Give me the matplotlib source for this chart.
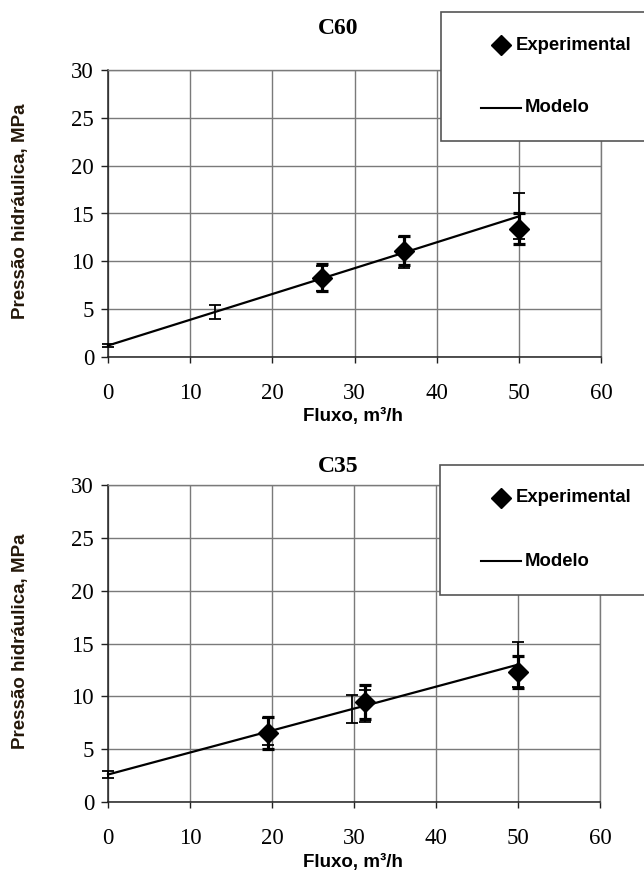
import matplotlib
matplotlib.use("Agg")
import matplotlib.pyplot as plt
from matplotlib.patches import Rectangle
from matplotlib.lines import Line2D

# ---- data ----
titles = ["C60", "C35"]
x_ticks = [0, 10, 20, 30, 40, 50, 60]
y_ticks = [0, 5, 10, 15, 20, 25, 30]

# C60
c60_model_x = [0, 13, 26, 36, 50]
c60_model_y = [1.2, 4.7, 8.2, 10.9, 14.7]
c60_model_err = [0.12, 0.75, 1.3, 1.6, 2.4]
c60_exp_x = [26, 36, 50]
c60_exp_y = [8.3, 11.1, 13.4]
c60_exp_err = [1.4, 1.5, 1.6]

# C35
c35_model_x = [0, 19.5, 29.7, 31.3, 50]
c35_model_y = [2.6, 6.66, 8.78, 9.1, 13.0]
c35_model_err = [0.32, 1.25, 1.35, 1.5, 2.1]
c35_exp_x = [19.5, 31.3, 50]
c35_exp_y = [6.5, 9.5, 12.3]
c35_exp_err = [1.5, 1.6, 1.5]

W, H = 644, 875
fig = plt.figure(figsize=(W / 100, H / 100), dpi=100)

serif = "Liberation Serif"
sans = "Liberation Sans"
ylab_color = "#24180a"


def fx(px):
    return px / W


def fy(py):
    return 1 - py / H


def make_panel(rect, title, title_y, legend_box, mx, my, merr, ex, ey, eerr, xlabel_y):
    l, t, r, b = rect
    ax = fig.add_axes([fx(l), fy(b), fx(r) - fx(l), fy(t) - fy(b)])
    ax.set_xlim(0, 60)
    ax.set_ylim(0, 30)
    ax.set_xticks(x_ticks)
    ax.set_yticks(y_ticks)
    ax.set_xticklabels([str(v) for v in x_ticks], fontfamily=serif, fontsize=16.5)
    ax.set_yticklabels([str(v) for v in y_ticks], fontfamily=serif, fontsize=16.5)
    ax.grid(True, color="#7a7a7a", lw=1.0)
    ax.set_axisbelow(True)
    for s in ["top", "right"]:
        ax.spines[s].set_color("#7a7a7a")
        ax.spines[s].set_linewidth(1.0)
    for s in ["left", "bottom"]:
        ax.spines[s].set_color("#202020")
        ax.spines[s].set_linewidth(1.1)
    ax.tick_params(axis="y", length=5, width=1, pad=5, color="#202020")
    ax.tick_params(axis="x", length=4.5, width=1, pad=14, color="#202020")

    # model line with its error bars
    ax.errorbar(mx, my, yerr=merr, color="black", lw=1.6, elinewidth=1.3,
                capsize=4, capthick=1.3, zorder=3, clip_on=False)
    # experimental points
    ax.errorbar(ex, ey, yerr=eerr, fmt="D", color="black", ms=10,
                elinewidth=2.3, capsize=4.5, capthick=2.3, zorder=4, lw=0,
                clip_on=False)

    fig.text(fx((l + r) / 2 - 16), fy(title_y), title, fontfamily=serif,
             fontweight="bold", fontsize=17, ha="center", va="center")
    fig.text(fx(353), fy(xlabel_y), "Fluxo, m³/h", fontfamily=sans,
             fontweight="bold", fontsize=13.5, ha="center", va="center")
    fig.text(fx(21), fy((t + b) / 2 - 2), "Pressão hidráulica, MPa",
             fontfamily=sans, fontweight="bold", fontsize=13.5, color=ylab_color,
             rotation=90, ha="center", va="center")

    # legend box
    bl, bt, br, bb = legend_box
    fig.patches.append(Rectangle((fx(bl), fy(bb)), fx(br) - fx(bl), fy(bt) - fy(bb),
                                 transform=fig.transFigure, facecolor="white",
                                 edgecolor="#555555", lw=1.2, zorder=10))
    ey1 = bt + 33
    ey2 = bt + 96
    fig.lines.append(Line2D([fx(501)], [fy(ey1)], marker="D", ms=10, color="black",
                            transform=fig.transFigure, zorder=11))
    fig.text(fx(516), fy(ey1), "Experimental", fontfamily=sans, fontweight="bold",
             fontsize=13.3, ha="left", va="center", zorder=11)
    fig.lines.append(Line2D([fx(481), fx(521)], [fy(ey2), fy(ey2)], color="black",
                            lw=1.5, transform=fig.transFigure, zorder=11))
    fig.text(fx(525), fy(ey2), "Modelo", fontfamily=sans, fontweight="bold",
             fontsize=13.3, ha="left", va="center", zorder=11)
    return ax


make_panel((108, 70, 601, 357), titles[0], 28, (441, 12, 660, 141),
           c60_model_x, c60_model_y, c60_model_err,
           c60_exp_x, c60_exp_y, c60_exp_err, 416)
make_panel((108, 485, 600, 802), titles[1], 466, (440, 465, 660, 595),
           c35_model_x, c35_model_y, c35_model_err,
           c35_exp_x, c35_exp_y, c35_exp_err, 862)

fig.savefig("out.png", dpi=100)
